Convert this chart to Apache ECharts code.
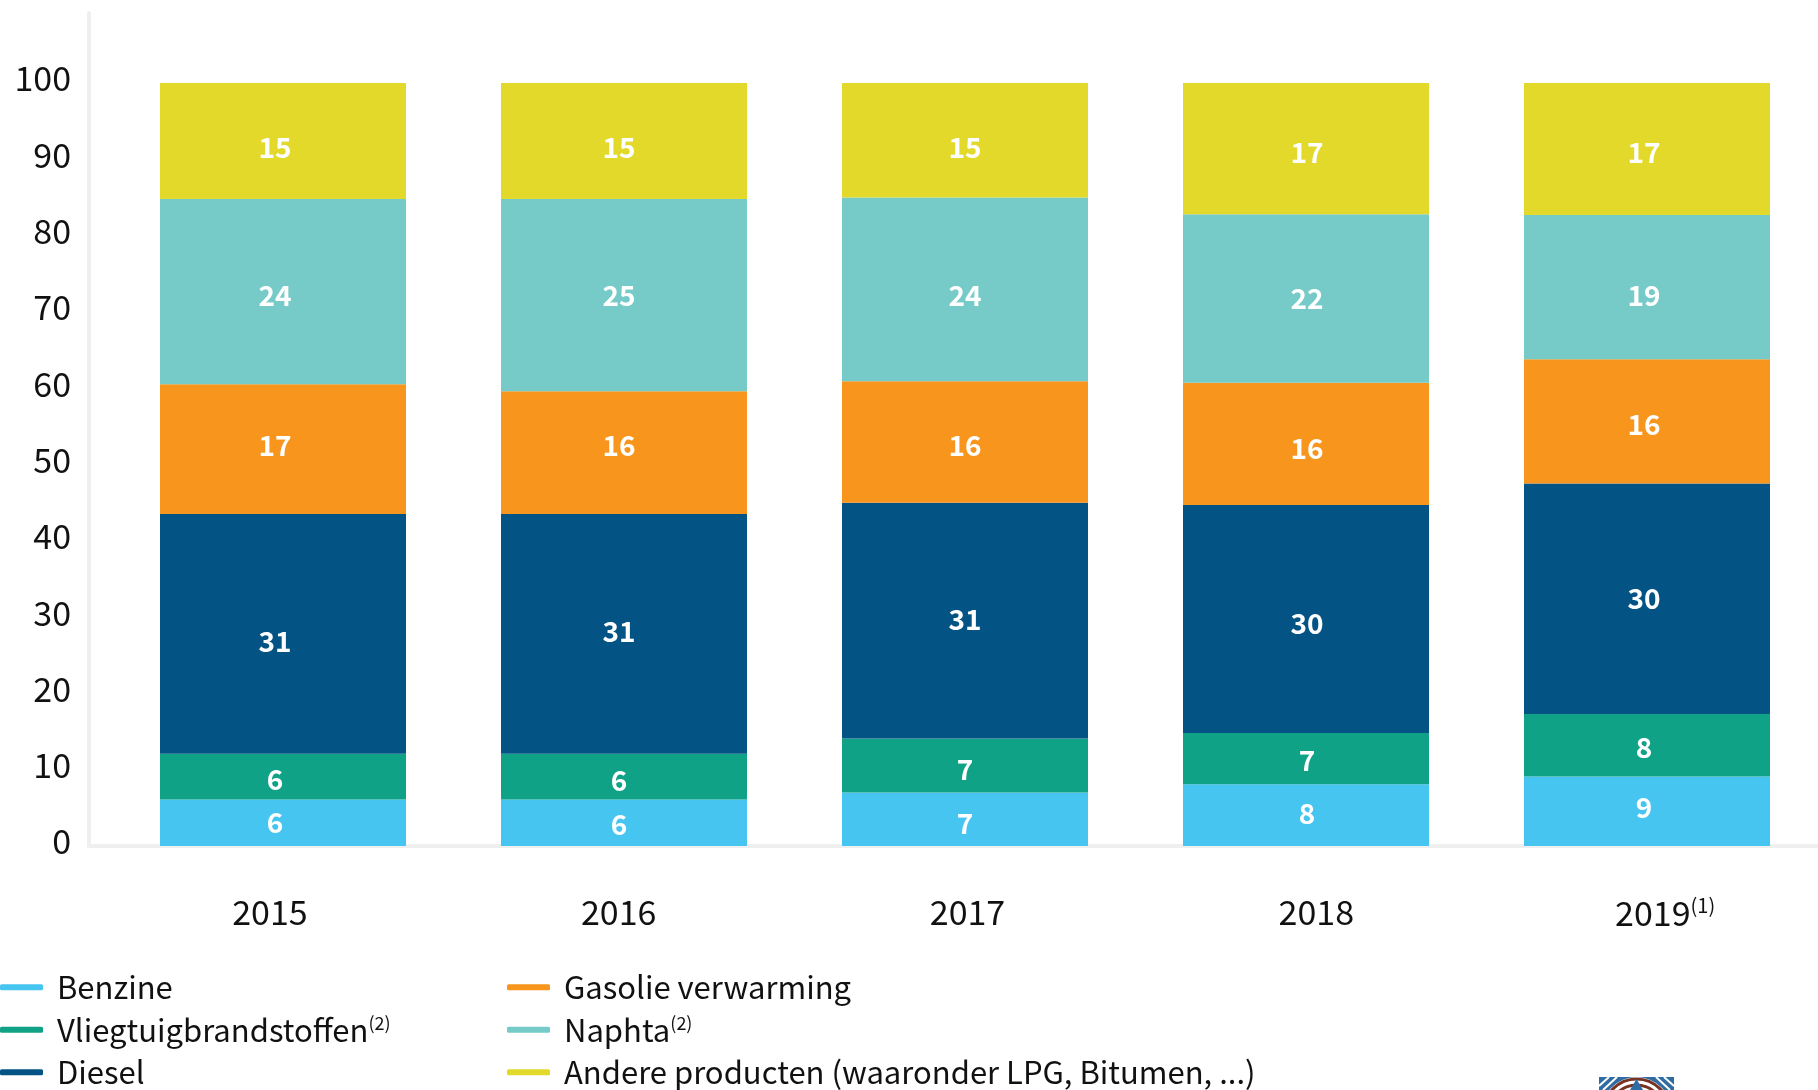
<!DOCTYPE html>
<html>
<head>
<meta charset="utf-8">
<title>Verbruik aardolieproducten</title>
<script src="https://cdn.jsdelivr.net/npm/echarts@6/dist/echarts.min.js"></script>
<style>
html, body { margin: 0; padding: 0; background: #fff; }
#main { width: 1818px; height: 1090px; }
</style>
</head>
<body>
<div id="main"></div>
<script>
var years = ['2015', '2016', '2017', '2018', '2019'];
var benzine = [6.1, 6.1, 7.0, 8.1, 9.1];
var vliegtuig = [6.0, 6.0, 7.1, 6.7, 8.2];
var diesel = [31.4, 31.4, 30.9, 29.9, 30.2];
var gasolie = [17.0, 16.1, 15.9, 16.0, 16.3];
var naphta = [24.3, 25.2, 24.1, 22.1, 18.9];
var andere = [15.2, 15.2, 15.0, 17.2, 17.3];

// labels in the original sit a bit off centre, [dx, dy] in px
var nudgeX = [-8, -5, 0, 1, -3];
var nudgeY = [
    [0, 2, 4, -2, -4],    // benzine
    [3, 4, 4, 2, 2],      // vliegtuig
    [7, -3, -1, 4, 0],    // diesel
    [-4, -7, 3, 4, 3],    // gasolie
    [4, 0, 6, 0, 8],      // naphta
    [6, 6, 7, 4, 3]       // andere
];

var font = '"Noto Sans CJK SC", "Noto Sans", sans-serif';
var textColor = '#111111';
var axisColor = '#efefef';
var yMax = 109.17;

var chart = echarts.init(document.getElementById('main'));

function barSeries(name, values, color, idx) {
    return {
        name: name,
        type: 'bar',
        stack: 'total',
        xAxisIndex: 1,
        yAxisIndex: 1,
        barWidth: 246,
        itemStyle: { color: color },
        label: {
            show: true,
            position: 'inside',
            color: '#ffffff',
            fontFamily: font,
            fontWeight: 'bold',
            fontSize: 28,
            formatter: function (p) { return Math.round(p.value); }
        },
        data: values.map(function (v, i) {
            return { value: v, label: { offset: [nudgeX[i], nudgeY[idx][i]] } };
        })
    };
}

function legendText(name) {
    if (name === 'Vliegtuigbrandstoffen' || name === 'Naphta') {
        return name + '{sup|(2)}';
    }
    return name;
}

function legendAt(left, names) {
    return {
        orient: 'vertical',
        left: left,
        top: 966,
        height: 200,
        padding: 0,
        itemGap: 0,
        itemWidth: 43,
        itemHeight: 6,
        icon: 'roundRect',
        selectedMode: false,
        data: names,
        formatter: legendText,
        textStyle: {
            color: textColor,
            fontFamily: font,
            fontSize: 31,
            lineHeight: 42.5,
            padding: [0, 0, 0, 9],
            rich: {
                sup: { fontSize: 18, fontFamily: font, color: textColor, padding: [0, 0, 14, 0] }
            }
        }
    };
}

var option = {
    animation: false,
    backgroundColor: '#ffffff',
    legend: [
        legendAt(0, ['Benzine', 'Vliegtuigbrandstoffen', 'Diesel']),
        legendAt(507, ['Gasolie verwarming', 'Naphta', 'Andere producten (waaronder LPG, Bitumen, ...)'])
    ],
    grid: [
        { left: 89, width: 1744, top: 13, bottom: 244, outerBoundsMode: 'none' },
        { left: 112.5, right: 0.5, top: 13, bottom: 244, outerBoundsMode: 'none' }
    ],
    xAxis: [
        {
            type: 'category',
            gridIndex: 0,
            data: years,
            axisLine: { lineStyle: { color: axisColor, width: 4 } },
            axisTick: { show: false },
            axisLabel: {
                color: textColor,
                fontFamily: font,
                fontSize: 34,
                margin: 49,
                padding: [0, 0, 0, 13],
                formatter: function (v) {
                    return v === '2019' ? v + '{sup|(1)}' : v;
                },
                rich: {
                    sup: { fontSize: 20, fontFamily: font, color: textColor, padding: [0, 0, 16, 0] }
                }
            }
        },
        {
            type: 'category',
            gridIndex: 1,
            data: years,
            axisLine: { show: false },
            axisTick: { show: false },
            axisLabel: { show: false }
        }
    ],
    yAxis: [
        {
            type: 'value',
            gridIndex: 0,
            min: 0,
            max: yMax,
            interval: 10,
            splitLine: { show: false },
            axisTick: { show: false },
            axisLine: { show: true, lineStyle: { color: axisColor, width: 4 } },
            axisLabel: {
                margin: 18,
                showMaxLabel: false,
                formatter: '{n|{value}}',
                rich: {
                    n: { color: textColor, fontFamily: font, fontSize: 34, padding: [0, 0, 9, 0] }
                }
            }
        },
        {
            type: 'value',
            gridIndex: 1,
            min: 0,
            max: yMax,
            interval: 10,
            show: false,
            splitLine: { show: false }
        }
    ],
    series: [
        barSeries('Benzine', benzine, '#47c5f1', 0),
        barSeries('Vliegtuigbrandstoffen', vliegtuig, '#10a286', 1),
        barSeries('Diesel', diesel, '#035485', 2),
        barSeries('Gasolie verwarming', gasolie, '#f8951d', 3),
        barSeries('Naphta', naphta, '#76cbc9', 4),
        barSeries('Andere producten (waaronder LPG, Bitumen, ...)', andere, '#e2d92b', 5)
    ],
    // logo, cut off by the bottom edge of the page
    graphic: {
        elements: [
            { type: 'rect', silent: true, shape: { x: 1599, y: 1077, width: 75, height: 13 }, style: { fill: '#2f6ca3' } },
            { type: 'line', silent: true, shape: { x1: 1599, y1: 1086, x2: 1609, y2: 1077 }, style: { stroke: '#fff', lineWidth: 2 } },
            { type: 'line', silent: true, shape: { x1: 1603, y1: 1090, x2: 1617, y2: 1077 }, style: { stroke: '#fff', lineWidth: 2 } },
            { type: 'line', silent: true, shape: { x1: 1674, y1: 1086, x2: 1664, y2: 1077 }, style: { stroke: '#fff', lineWidth: 2 } },
            { type: 'line', silent: true, shape: { x1: 1670, y1: 1090, x2: 1656, y2: 1077 }, style: { stroke: '#fff', lineWidth: 2 } },
            { type: 'circle', silent: true, shape: { cx: 1636.5, cy: 1112, r: 35 }, style: { fill: '#fff' } },
            { type: 'circle', silent: true, shape: { cx: 1636.5, cy: 1112, r: 33 }, style: { fill: 'none', stroke: '#7a3322', lineWidth: 3 } },
            { type: 'circle', silent: true, shape: { cx: 1636.5, cy: 1112, r: 27 }, style: { fill: 'none', stroke: '#7a3322', lineWidth: 3 } },
            { type: 'polygon', silent: true, shape: { points: [[1636.5, 1079], [1630, 1090], [1643, 1090]] }, style: { fill: '#2f6ca3' } }
        ]
    }
};

option && chart.setOption(option);

window.addEventListener('resize', chart.resize);
</script>
</body>
</html>
